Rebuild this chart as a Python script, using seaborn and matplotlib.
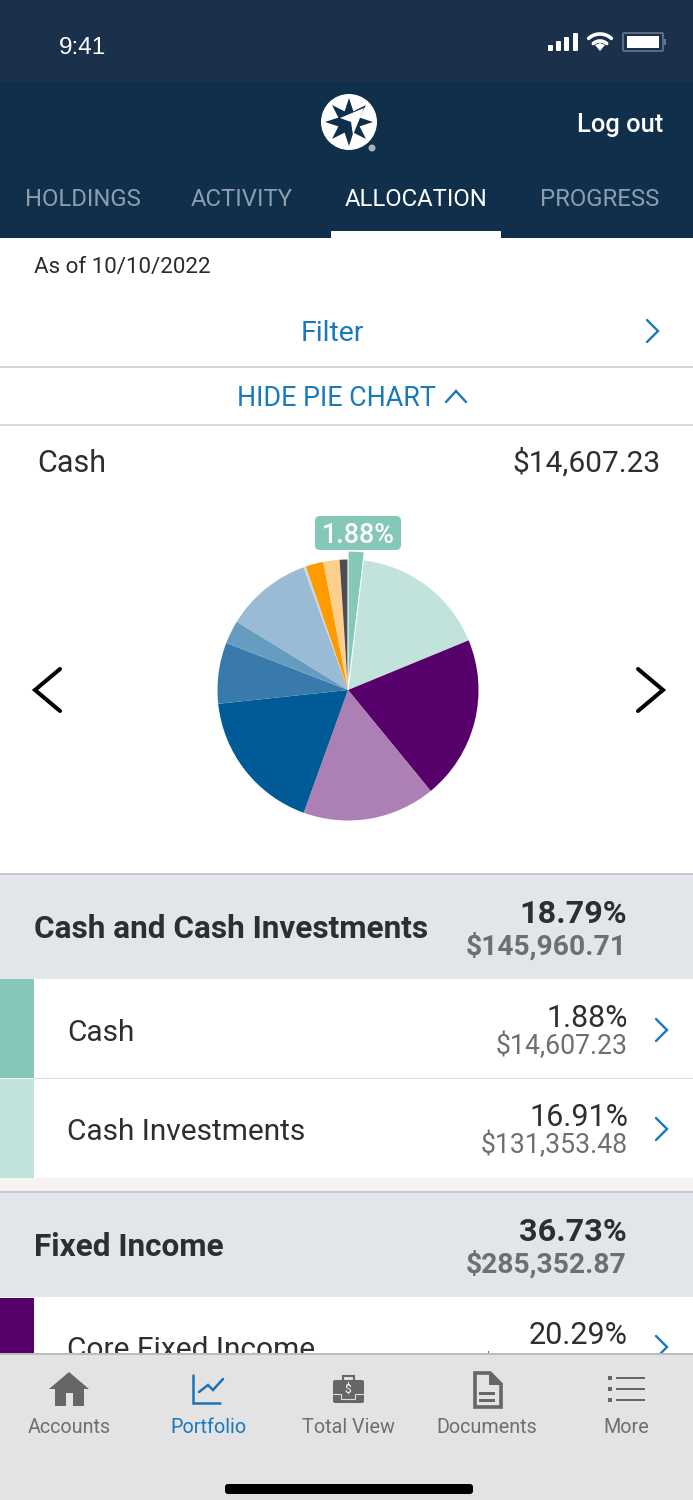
from matplotlib import pyplot as plt
from matplotlib.patches import Rectangle, Circle, Polygon, FancyBboxPatch
import numpy as np
import seaborn as sns

# Pie slices, clockwise from 12 o'clock
slice_names = ["Cash", "Cash Investments", "Core Fixed Income", "Other Fixed Income",
               "Large Cap", "Mid Cap", "Small Cap", "International", "Other Equity",
               "Alternatives", "Commodities", "Other"]
slice_values = [1.88, 16.91, 20.29, 16.44, 17.8, 7.56, 2.9, 10.7, 0.3, 2.2, 2.0, 1.03]
slice_colors = ["#85c7b8", "#c2e3db", "#57006b", "#ac80b5", "#005a96", "#377aab",
                "#669cc0", "#99bbd5", "#c5d9e8", "#ff9b00", "#ffd08c", "#4d4d55"]

tab_names = ["HOLDINGS", "ACTIVITY", "ALLOCATION", "PROGRESS"]
tab_x = [83, 242, 416, 600]
nav_names = ["Accounts", "Portfolio", "Total View", "Documents", "More"]
nav_x = [69, 208, 348, 487, 626]

sns.set_theme(style="white")
plt.rcParams["font.family"] = ["Roboto", "DejaVu Sans"]

BLUE = "#1a79bc"
DARK = "#2e2e30"
GREY = "#6f6f6f"
WIDTH, HEIGHT = 693, 1500

fig = plt.figure(figsize=(6.93, 15), dpi=100, facecolor="white")
ui = fig.add_axes([0, 0, 1, 1])
ui.set_xlim(0, WIDTH)
ui.set_ylim(HEIGHT, 0)
ui.axis("off")


def box(x0, y0, x1, y1, color, z=1):
    ui.add_patch(Rectangle((x0, y0), x1 - x0, y1 - y0, fc=color, ec="none", zorder=z))


def txt(x, y, s, size, color=DARK, ha="left", weight="normal", z=3, family=None):
    # y is the middle of the capitals
    base = y + 0.355 * size * 100 / 72
    ui.text(x, base, s, fontsize=size, color=color, ha=ha, va="baseline",
            fontweight=weight, zorder=z, family=family or ["Roboto", "DejaVu Sans"])


def line(xs, ys, color, lw, z=3):
    ui.plot(xs, ys, color=color, lw=lw, zorder=z, solid_capstyle="round",
            solid_joinstyle="miter")


def chevron(x, y, color=BLUE):
    line([x, x + 11, x], [y - 11, y, y + 11], color, 1.7)


# header
box(0, 0, WIDTH, 82, "#1b314b")
box(0, 82, WIDTH, 238, "#0f2f4a")
txt(59, 45, "9:41", 17.5, "white", family="Liberation Sans")
for x, top in zip([548, 556, 564, 573], [45, 41, 37, 33]):
    ui.add_patch(FancyBboxPatch((x + 1, top + 1), 3, 49 - top, boxstyle="round,pad=1",
                                fc="white", ec="none", zorder=3))
for r in [17, 10]:
    t = np.radians(np.linspace(-42, 42, 30))
    line(600 + r * np.sin(t), 51 - r * np.cos(t), "white", 2.6)
ui.add_patch(Polygon([[600, 51], [595, 45], [600, 43], [605, 45]], fc="white", ec="none", zorder=3))
ui.add_patch(FancyBboxPatch((624, 34), 38, 16, boxstyle="round,pad=1", fc="none",
                            ec="#64778c", lw=1.2, zorder=3))
box(627, 36, 659, 48, "white", 4)
box(664, 39, 666, 45, "#64778c", 3)

# logo
ui.add_patch(Circle((349, 122), 28, fc="white", ec="none", zorder=3))
ang = np.radians(np.arange(16) * 22.5)
rad = np.where(np.arange(16) % 2 == 0, 24, 11.5)
ui.add_patch(Polygon(np.c_[349 + rad * np.sin(ang), 122 - rad * np.cos(ang)],
                     fc="#0f2f4a", ec="none", zorder=4))
ui.add_patch(Polygon([[364, 108], [340, 118], [351, 122], [353, 135]], fc="white", ec="none", zorder=5))
ui.add_patch(Circle((372, 148), 3.5, fc="#a9b4be", ec="none", zorder=3))

txt(663, 123, "Log out", 18.4, "white", ha="right", weight="medium")
for name, x in zip(tab_names, tab_x):
    active = name == "ALLOCATION"
    txt(x, 197.5, name, 17.2, "white" if active else "#8c9eae", ha="center")
box(331, 231, 501, 238, "white", 3)

# filter strip
txt(33.5, 265, "As of 10/10/2022", 16.1, "#2a2a2a")
txt(332, 331, "Filter", 20.5, BLUE, ha="center")
chevron(647, 331)
box(0, 366, WIDTH, 368, "#d6d6d6")
txt(237, 396, "HIDE PIE CHART", 19.4, BLUE)
line([446, 456, 466], [402, 391, 402], BLUE, 1.7)
box(0, 424, WIDTH, 426, "#cedde6")
txt(37, 461, "Cash", 22, DARK)
txt(660, 461, "$14,607.23", 21.5, DARK, ha="right")

# the pie, 1 data unit = 1 pixel
half = 150
pie_ax = fig.add_axes([(348 - half) / WIDTH, 1 - (690 + half) / HEIGHT,
                       2 * half / WIDTH, 2 * half / HEIGHT], zorder=2)
palette = sns.color_palette(slice_colors)
wedges, _ = pie_ax.pie(slice_values, colors=palette, startangle=90, counterclock=False,
                       radius=130.5, frame=False, wedgeprops=dict(linewidth=0))
wedges[0].set_radius(139)
wedges[0].set_edgecolor("white")
wedges[0].set_linewidth(0.8)
wedges[0].set_zorder(5)
pie_ax.set_xlim(-half, half)
pie_ax.set_ylim(-half, half)
pie_ax.set_aspect("equal")
pie_ax.axis("off")

ui.add_patch(FancyBboxPatch((320, 521), 76, 24, boxstyle="round,pad=5", fc="#85c7b8",
                            ec="none", zorder=3))
txt(358, 533, "1.88%", 19.4, "white", ha="center", weight="medium")
line([60, 35, 60], [669, 690, 711], "black", 2.9)
line([638, 663, 638], [669, 690, 711], "black", 2.9)
ui.set_zorder(1)
ui.patch.set_alpha(0)
pie_ax.set_zorder(2)


def group(top, bottom, name, pct, amount, y):
    box(0, top, WIDTH, bottom, "#e2e5e9")
    box(0, top - 2, WIDTH, top, "#c8c9ce")
    txt(34, y, name, 22.7, DARK, weight="bold")
    txt(627, y - 15, pct, 23.3, DARK, ha="right", weight="bold")
    txt(626.5, y + 18, amount, 20.3, GREY, ha="right", weight="bold")


def row(top, color, name, pct, amount, y):
    box(0, top, 33.5, top + 99, color)
    txt(67, y, name, 21.5, DARK)
    txt(628, y - 14, pct, 22, DARK, ha="right")
    if amount:
        txt(627.5, y + 15, amount, 19.2, GREY, ha="right")
    chevron(656, y)


# allocation list
group(875, 979, "Cash and Cash Investments", "18.79%", "$145,960.71", 927)
row(979, slice_colors[0], "Cash", "1.88%", "$14,607.23", 1030)
box(33, 1078, WIDTH, 1079, "#dcdcdc")
row(1079, slice_colors[1], "Cash Investments", "16.91%", "$131,353.48", 1129)
box(0, 1178, WIDTH, 1191, "#f5f4f2")
group(1193, 1297, "Fixed Income", "36.73%", "$285,352.87", 1245)
row(1298, slice_colors[2], "Core Fixed Income", "20.29%", "", 1347)
box(488, 1351, 489, 1354, GREY, 3)

# tab bar
box(0, 1353, WIDTH, 1355, "#bdbdbd", 10)
box(0, 1355, WIDTH, HEIGHT, "#e3e3e3", 10)
ICON = "#666666"
ui.add_patch(Polygon([[69, 1372], [89, 1389], [84, 1389], [84, 1406], [73, 1406], [73, 1393],
                      [66, 1393], [66, 1406], [55, 1406], [55, 1389], [49, 1389]],
                     fc=ICON, ec="none", zorder=11))
line([193, 193, 220], [1375, 1403, 1403], "#1a72b8", 1.8, 11)
line([199, 208, 213, 223], [1392, 1385, 1390, 1379], "#1a72b8", 1.8, 11)
ui.add_patch(FancyBboxPatch((335, 1382), 27, 19, boxstyle="round,pad=2", fc=ICON, ec="none", zorder=11))
ui.add_patch(Rectangle((343, 1376), 11, 5, fc="none", ec=ICON, lw=1.5, zorder=11))
line([333, 341, 341, 355, 355, 364], [1394, 1394, 1399, 1399, 1394, 1394], "#dcdcdc", 0.8, 12)
txt(348, 1389, "$", 8.5, "white", ha="center", z=12)
ui.add_patch(Polygon([[475, 1373], [490, 1373], [501, 1384], [501, 1407], [475, 1407]],
                     closed=True, fc="none", ec=ICON, lw=2.6, zorder=11))
ui.add_patch(Polygon([[489, 1373], [501, 1385], [489, 1385]], fc=ICON, ec="none", zorder=11))
box(479, 1392, 495, 1395, ICON, 11)
box(479, 1399, 495, 1402, ICON, 11)
for y in [1378, 1389, 1400]:
    box(608, y - 2, 612, y + 2, ICON, 11)
    box(616, y - 0.7, 645, y + 0.7, ICON, 11)
for name, x in zip(nav_names, nav_x):
    txt(x, 1426, name, 14.2, BLUE if name == "Portfolio" else GREY, ha="center", z=11)
ui.add_patch(FancyBboxPatch((228, 1487), 242, 4, boxstyle="round,pad=3", fc="black", ec="none", zorder=11))

fig.savefig("out.png", dpi=100)
